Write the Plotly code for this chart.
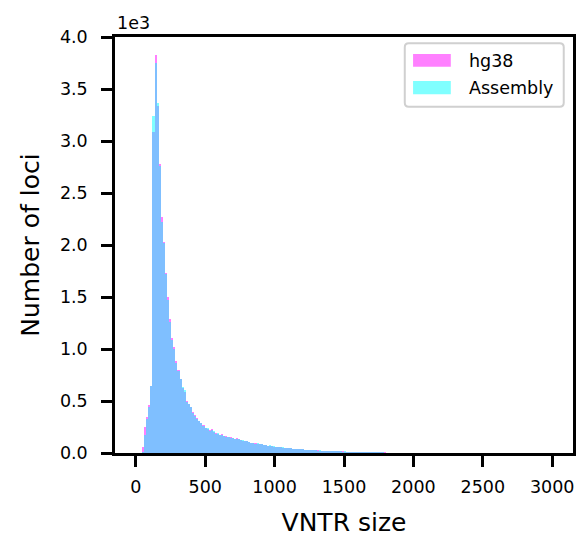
import plotly.graph_objects as go

bin_width = 15
bin_starts = [i * bin_width for i in range(200)]

hg38_counts = [
    0, 0, 0, 60, 250, 345, 465, 640, 3090, 3825,
    3340, 2780, 2265, 2030, 1730, 1500, 1285, 1110, 1020, 880,
    795, 710, 625, 590, 500, 470, 445, 390, 365, 335,
    305, 290, 265, 245, 235, 220, 235, 205, 190, 185,
    175, 180, 165, 160, 155, 150, 140, 135, 140, 130,
    125, 120, 115, 118, 108, 100, 96, 92, 90, 85,
    82, 78, 75, 70, 72, 66, 62, 60, 57, 55,
    52, 50, 48, 46, 44, 42, 40, 39, 37, 35,
    34, 32, 31, 30, 28, 27, 26, 25, 24, 23,
    22, 21, 20, 19, 18, 18, 17, 16, 15, 15,
    14, 13, 13, 12, 12, 11, 10, 10, 9, 9,
    8, 8, 7, 7, 7, 6, 6, 5, 5, 5,
    4, 4, 3, 3, 2, 2, 1, 1, 1, 0,
] + [0] * 70

assembly_counts = [
    0, 0, 0, 10, 170, 330, 440, 640, 3240, 3750,
    3370, 2755, 2220, 2015, 1720, 1475, 1260, 1085, 1000, 865,
    790, 715, 630, 605, 495, 475, 440, 385, 360, 330,
    310, 285, 262, 240, 238, 215, 225, 210, 185, 188,
    172, 176, 168, 158, 157, 148, 143, 132, 137, 133,
    122, 123, 112, 115, 110, 98, 98, 90, 92, 83,
    84, 76, 77, 69, 74, 64, 63, 59, 58, 54,
    53, 49, 49, 45, 45, 41, 41, 38, 38, 34,
    35, 31, 32, 29, 29, 26, 27, 24, 25, 22,
    23, 20, 21, 18, 19, 17, 18, 15, 16, 14,
    15, 12, 14, 11, 13, 10, 11, 9, 10, 8,
    9, 7, 8, 6, 7, 5, 6, 5, 5, 4,
    4, 3, 3, 2, 2, 2, 1, 1, 1, 0,
] + [0] * 70

series_names = ["hg38", "Assembly"]
series_colors = ["rgba(255,0,255,0.5)", "rgba(0,255,255,0.5)"]
swatch_colors = ["#ff80ff", "#80ffff"]

y_tickvals = [0, 500, 1000, 1500, 2000, 2500, 3000, 3500, 4000]
y_ticktext = ["0.0", "0.5", "1.0", "1.5", "2.0", "2.5", "3.0", "3.5", "4.0"]
x_tickvals = [0, 500, 1000, 1500, 2000, 2500, 3000]

centers = [s + bin_width / 2 for s in bin_starts]
FONT = "DejaVu Sans"

fig = go.Figure()
for name, counts, col in zip(series_names, [hg38_counts, assembly_counts], series_colors):
    fig.add_trace(go.Bar(x=centers, y=counts, width=bin_width, name=name,
                         marker=dict(color=col, line=dict(width=0)), showlegend=False))

# manual matplotlib-style legend (paper coordinates)
x0, x1, y0, y1 = 0.6327, 0.9798, 0.8325, 0.9849
rx, ry = 0.0087, 0.0096
box_path = (f"M {x0+rx},{y0} L {x1-rx},{y0} Q {x1},{y0} {x1},{y0+ry} "
            f"L {x1},{y1-ry} Q {x1},{y1} {x1-rx},{y1} L {x0+rx},{y1} "
            f"Q {x0},{y1} {x0},{y1-ry} L {x0},{y0+ry} Q {x0},{y0} {x0+rx},{y0} Z")
shapes = [dict(type="path", xref="paper", yref="paper", path=box_path,
               fillcolor="rgba(255,255,255,0.8)", line=dict(color="#d0d0d0", width=2))]
annotations = []
rows = [(0.9591, 0.9286, 0.9435), (0.8942, 0.8623, 0.8786)]
for (top, bot, mid), name, sc in zip(rows, series_names, swatch_colors):
    shapes.append(dict(type="rect", xref="paper", yref="paper", x0=0.6508, x1=0.7332,
                       y0=bot, y1=top, fillcolor=sc, line=dict(width=0)))
    annotations.append(dict(text=name, xref="paper", yref="paper", x=0.7686, y=mid,
                            xanchor="left", yanchor="middle", showarrow=False,
                            font=dict(size=17.5)))
annotations.append(dict(text="1e3", xref="paper", yref="paper", x=0, y=1.0,
                        xanchor="left", yanchor="bottom", showarrow=False, yshift=2,
                        font=dict(size=17.5)))

fig.update_layout(
    width=582, height=538,
    margin=dict(l=115, r=6, t=37, b=85),
    barmode="overlay", bargap=0,
    plot_bgcolor="white", paper_bgcolor="white",
    font=dict(family=FONT, size=17, color="black"),
    showlegend=False,
    xaxis=dict(range=[-150, 3150], tickvals=x_tickvals, ticks="outside", ticklen=11,
               tickwidth=2.5, tickcolor="black", showline=True, linewidth=2.5,
               linecolor="black", mirror=True, showgrid=False, zeroline=False,
               tickfont=dict(size=17.5), ticklabelstandoff=5,
               title=dict(text="VNTR size", font=dict(size=25), standoff=18)),
    yaxis=dict(range=[0, 4000], tickvals=y_tickvals, ticktext=y_ticktext, ticks="outside",
               ticklen=11, tickwidth=2.5, tickcolor="black", showline=True, linewidth=2.5,
               linecolor="black", mirror=True, showgrid=False, zeroline=False,
               tickfont=dict(size=17.5), ticklabelstandoff=10,
               title=dict(text="Number of loci", font=dict(size=25), standoff=14)),
    shapes=shapes,
    annotations=annotations,
)

fig.write_html("out.html")
